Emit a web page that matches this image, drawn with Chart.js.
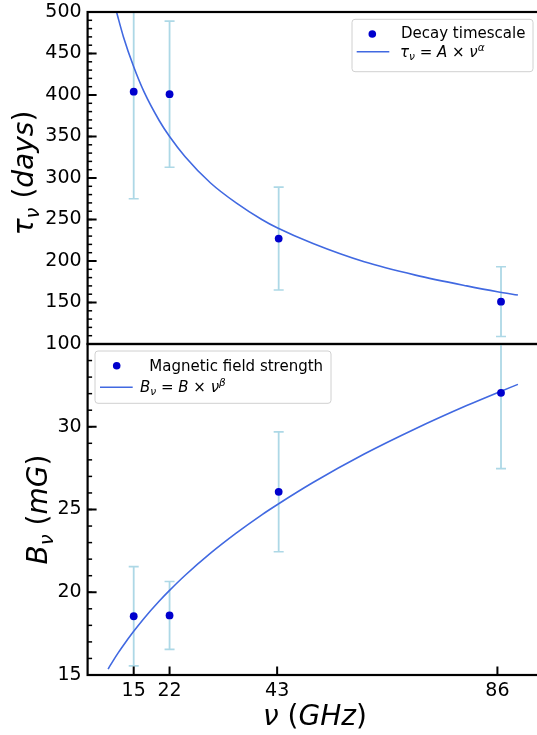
<!DOCTYPE html>
<html><head><meta charset="utf-8">
<script src="https://cdn.jsdelivr.net/npm/chart.js@4.4.0/dist/chart.umd.min.js"></script>
<style>
html,body{margin:0;padding:0;background:#fff;overflow:hidden;width:537px;height:735px;}
#wrap{position:relative;width:537px;height:735px;overflow:hidden;background:#fff;}
#c1{position:absolute;left:0;top:0;}
#c2{position:absolute;left:0;top:330px;}
</style></head><body>
<div id="wrap">
<canvas id="c1" width="545" height="360"></canvas>
<canvas id="c2" width="545" height="405"></canvas>
</div>
<script>
// ---------- data ----------
const freq = [15, 22, 43.3, 86.7];
const tau = [404, 401, 227, 151];
const tauErr = [129, 88, 62, 42];
const bField = [18.55, 18.6, 26.07, 32.05];
const bErr = [3.0, 2.05, 3.62, 4.58];

const fitNu = [10, 11, 12, 13, 15, 17, 20, 22, 25, 30, 35, 40, 43, 50, 60, 70, 80, 86, 90];
const tauFit = [545, 516, 492, 470, 434, 404, 369, 350, 326, 294, 270, 250, 240, 221, 199, 183, 170, 163, 159];
const bFit = [15.36, 15.87, 16.35, 16.80, 17.64, 18.42, 19.47, 20.11, 21.01, 22.36, 23.57, 24.68, 25.29, 26.63, 28.35, 29.88, 31.28, 32.06, 32.56];

const xTicks = [15, 22, 43, 86];
const tauTicks = [100, 150, 200, 250, 300, 350, 400, 450, 500];
const bTicks = [15, 20, 25, 30];

// ---------- style ----------
const FONT = "'DejaVu Sans', 'Liberation Sans', sans-serif";
const PT_COLOR = '#0000CD';
const LINE_COLOR = '#4169E1';
const ERR_COLOR = '#ADD8E6';
Chart.defaults.font.family = FONT;

function drawParts(ctx, x, y, parts, base) {
  let cx = x;
  for (const p of parts) {
    const size = base * (p.s || 1);
    ctx.font = (p.i ? 'italic ' : '') + size + 'px ' + FONT;
    ctx.fillText(p.t, cx, y + (p.dy || 0) * base);
    cx += ctx.measureText(p.t).width;
  }
  return cx - x;
}
function measureParts(ctx, parts, base) {
  let w = 0;
  for (const p of parts) {
    const size = base * (p.s || 1);
    ctx.font = (p.i ? 'italic ' : '') + size + 'px ' + FONT;
    w += ctx.measureText(p.t).width;
  }
  return w;
}

function errorSets(xs, ys, es) {
  return xs.map((x, i) => ({
    data: [{x: x, y: ys[i] - es[i]}, {x: x, y: ys[i] + es[i]}],
    borderColor: ERR_COLOR, borderWidth: 1.8,
    pointStyle: 'line', pointRadius: 5, pointHoverRadius: 5,
    pointBorderColor: ERR_COLOR, pointBorderWidth: 1.6,
    order: 3, clip: 0
  }));
}

const decor = {
  id: 'decor',
  afterDatasetsDraw(chart, args, o) {
    const ctx = chart.ctx, a = chart.chartArea, y = chart.scales.y, x = chart.scales.x;
    ctx.save();
    ctx.strokeStyle = '#000';
    // minor y ticks
    ctx.lineWidth = 1.5;
    for (let v = y.min; v <= y.max + 1e-9; v += o.yMinor) {
      const p = y.getPixelForValue(v);
      ctx.beginPath(); ctx.moveTo(a.left, p); ctx.lineTo(a.left + 4.5, p); ctx.stroke();
    }
    // major y ticks
    ctx.lineWidth = 2;
    for (const t of y.ticks) {
      const p = y.getPixelForValue(t.value);
      ctx.beginPath(); ctx.moveTo(a.left, p); ctx.lineTo(a.left + 9, p); ctx.stroke();
    }
    if (o.xTicksShown) {
      for (const t of x.ticks) {
        const p = x.getPixelForValue(t.value);
        ctx.beginPath(); ctx.moveTo(p, a.bottom); ctx.lineTo(p, a.bottom - 8.5); ctx.stroke();
      }
    }
    // frame
    ctx.lineWidth = 2.2;
    ctx.strokeRect(a.left, a.top, a.right - a.left, a.bottom - a.top);

    // legend
    const L = o.legend;
    ctx.fillStyle = 'rgba(255,255,255,0.8)';
    ctx.strokeStyle = '#d0d0d0';
    ctx.lineWidth = 1;
    ctx.beginPath(); ctx.roundRect(L.x, L.y, L.w, L.h, 3); ctx.fill(); ctx.stroke();
    ctx.fillStyle = PT_COLOR;
    ctx.beginPath(); ctx.arc(L.dot[0], L.dot[1], 3.8, 0, Math.PI * 2); ctx.fill();
    ctx.strokeStyle = LINE_COLOR; ctx.lineWidth = 1.6;
    ctx.beginPath(); ctx.moveTo(L.line[0], L.line[2]); ctx.lineTo(L.line[1], L.line[2]); ctx.stroke();
    ctx.fillStyle = '#000';
    ctx.textBaseline = 'alphabetic'; ctx.textAlign = 'left';
    ctx.font = '15px ' + FONT;
    ctx.fillText(L.text1, L.t1[0], L.t1[1]);
    drawParts(ctx, L.t2[0], L.t2[1], L.math, 15);

    // y title (rotated)
    const T = o.ytitle;
    const w = measureParts(ctx, T.parts, T.size);
    ctx.save();
    ctx.translate(T.x, T.cy + w / 2);
    ctx.rotate(-Math.PI / 2);
    drawParts(ctx, 0, 0, T.parts, T.size);
    ctx.restore();

    if (o.xtitle) {
      const X = o.xtitle;
      const wx = measureParts(ctx, X.parts, X.size);
      drawParts(ctx, X.cx - wx / 2, X.y, X.parts, X.size);
    }
    ctx.restore();
  }
};

function yScale(min, max, ticks) {
  return {
    type: 'linear', min: min, max: max,
    afterFit(s) { s.width = 87.6; s.paddingTop = 0; s.paddingBottom = 0; },
    afterBuildTicks(s) { s.ticks = ticks.map(v => ({value: v})); },
    grid: {display: false, drawTicks: false},
    border: {display: false},
    ticks: {font: {family: FONT, size: 19}, color: '#000', padding: 6}
  };
}

// ---------- top panel ----------
new Chart(document.getElementById('c1'), {
  type: 'line',
  data: {
    datasets: [
      {label: 'Decay timescale', data: freq.map((f, i) => ({x: f, y: tau[i]})), showLine: false,
       pointRadius: 3.9, pointBackgroundColor: PT_COLOR, pointBorderWidth: 0, order: 1, clip: 0},
      {label: 'fit', data: fitNu.map((f, i) => ({x: f, y: tauFit[i]})), borderColor: LINE_COLOR,
       borderWidth: 1.6, pointRadius: 0, cubicInterpolationMode: 'monotone', order: 2, clip: 0},
      ...errorSets(freq, tau, tauErr)
    ]
  },
  options: {
    responsive: false, animation: false, events: [],
    layout: {padding: {top: 12, bottom: 16, left: 0, right: 4.4}},
    plugins: {
      legend: {display: false}, tooltip: {enabled: false},
      decor: {
        yMinor: 10, xTicksShown: false,
        legend: {x: 352, y: 19.3, w: 181, h: 52.4, dot: [372.3, 34], line: [356.7, 389.3, 51.7],
                 text1: 'Decay timescale', t1: [401, 37.7], t2: [400, 56.7],
                 math: [{t: 'τ', i: 1}, {t: 'ν', i: 1, s: 0.7, dy: 0.2}, {t: ' = '}, {t: 'A', i: 1},
                        {t: ' × '}, {t: 'ν', i: 1}, {t: 'α', i: 1, s: 0.7, dy: -0.4}]},
        ytitle: {x: 33, cy: 173, size: 28,
                 parts: [{t: 'τ', i: 1}, {t: 'ν', i: 1, s: 0.7, dy: 0.2}, {t: ' '}, {t: '('},
                         {t: 'days', i: 1}, {t: ')'}]}
      }
    },
    scales: {
      x: {type: 'linear', min: 6, max: 94, display: false},
      y: yScale(100, 500, tauTicks)
    }
  },
  plugins: [decor]
});

// ---------- bottom panel ----------
new Chart(document.getElementById('c2'), {
  type: 'line',
  data: {
    datasets: [
      {label: 'Magnetic field strength', data: freq.map((f, i) => ({x: f, y: bField[i]})), showLine: false,
       pointRadius: 3.9, pointBackgroundColor: PT_COLOR, pointBorderWidth: 0, order: 1, clip: 0},
      {label: 'fit', data: fitNu.map((f, i) => ({x: f, y: bFit[i]})), borderColor: LINE_COLOR,
       borderWidth: 1.6, pointRadius: 0, cubicInterpolationMode: 'monotone', order: 2, clip: 0},
      ...errorSets(freq, bField, bErr)
    ]
  },
  options: {
    responsive: false, animation: false, events: [],
    layout: {padding: {top: 14, bottom: 0, left: 0, right: 4.4}},
    plugins: {
      legend: {display: false}, tooltip: {enabled: false},
      decor: {
        yMinor: 1, xTicksShown: true,
        legend: {x: 95, y: 21, w: 236, h: 52.3, dot: [116.7, 35.7], line: [100, 132.7, 57.3],
                 text1: 'Magnetic field strength', t1: [149.3, 40.5], t2: [140, 62],
                 math: [{t: 'B', i: 1}, {t: 'ν', i: 1, s: 0.7, dy: 0.2}, {t: ' = '}, {t: 'B', i: 1},
                        {t: ' × '}, {t: 'ν', i: 1}, {t: 'β', i: 1, s: 0.7, dy: -0.4}]},
        ytitle: {x: 47, cy: 179.5, size: 28,
                 parts: [{t: 'B', i: 1}, {t: 'ν', i: 1, s: 0.7, dy: 0.2}, {t: ' '}, {t: '('},
                         {t: 'mG', i: 1}, {t: ')'}]},
        xtitle: {cx: 315, y: 395, size: 28,
                 parts: [{t: 'ν', i: 1}, {t: ' '}, {t: '('}, {t: 'GHz', i: 1}, {t: ')'}]}
      }
    },
    scales: {
      x: {type: 'linear', position: 'bottom', min: 6, max: 94,
          afterFit(s) { s.height = 60; s.paddingLeft = 0; s.paddingRight = 0; },
          afterBuildTicks(s) { s.ticks = xTicks.map(v => ({value: v})); },
          grid: {display: false, drawTicks: false}, border: {display: false},
          ticks: {font: {family: FONT, size: 19}, color: '#000', padding: 5, maxRotation: 0, autoSkip: false}},
      y: yScale(15, 35, bTicks)
    }
  },
  plugins: [decor]
});
</script>
</body></html>
